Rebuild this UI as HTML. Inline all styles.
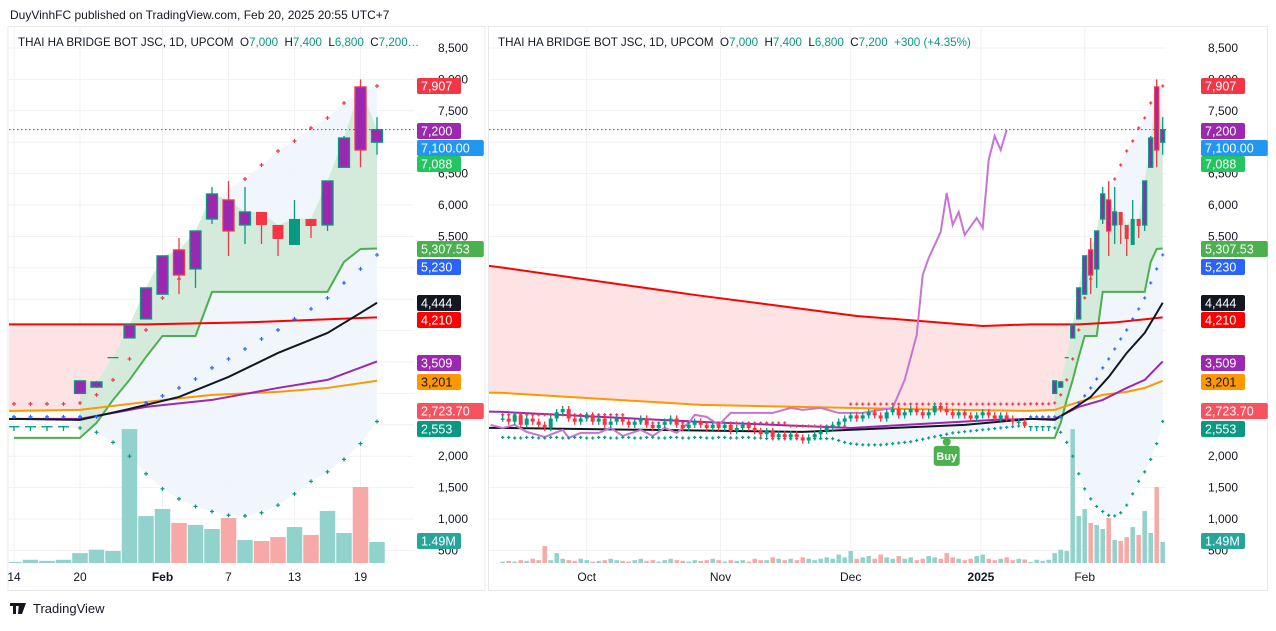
<!DOCTYPE html>
<html><head><meta charset="utf-8">
<style>
html,body{margin:0;padding:0;background:#fff;}
body{width:1276px;height:626px;overflow:hidden;font-family:"Liberation Sans",sans-serif;}
svg text{font-family:"Liberation Sans",sans-serif;white-space:pre;}
</style></head>
<body>
<svg id="chart" width="1276" height="626" viewBox="0 0 1276 626" xmlns="http://www.w3.org/2000/svg" xml:space="preserve">
<defs>
<clipPath id="clipL"><rect x="9" y="27" width="405" height="538"/></clipPath>
<clipPath id="clipR"><rect x="489" y="27" width="677" height="538"/></clipPath>
</defs>
<text x="10" y="19" font-size="12" fill="#131722">DuyVinhFC published on TradingView.com, Feb 20, 2025 20:55 UTC+7</text>
<rect x="8" y="26.5" width="477" height="564" fill="none" stroke="#e8e8ea"/>
<rect x="488.5" y="26.5" width="779" height="564" fill="none" stroke="#e8e8ea"/>
<g id="gridL"></g>
<g id="gridR"></g>
<g id="plotL" clip-path="url(#clipL)"></g>
<g id="plotR" clip-path="url(#clipR)"></g>
<g id="axes"></g>
<text x="18" y="46" font-size="11.6" fill="#131722">THAI HA BRIDGE BOT JSC, 1D, UPCOM  O<tspan fill="#089981">7,000</tspan>  H<tspan fill="#089981">7,400</tspan>  L<tspan fill="#089981">6,800</tspan>  C<tspan fill="#089981">7,200…</tspan></text>
<text x="498" y="46" font-size="11.6" fill="#131722">THAI HA BRIDGE BOT JSC, 1D, UPCOM  O<tspan fill="#089981">7,000</tspan>  H<tspan fill="#089981">7,400</tspan>  L<tspan fill="#089981">6,800</tspan>  C<tspan fill="#089981">7,200  +300 (+4.35%)</tspan></text>
<g>
<path d="M10 603h9v3h-3v8h-3v-8h-3z M19 603h3l-2 11h-2z M22 603h4l-4 11h-2z" fill="#131722"/>
<text x="33" y="613" font-size="13" fill="#131722">TradingView</text>
</g>
</svg>
<script>
// ---------- data ----------
const earlyClose = [2600,2550,2650,2500,2600,2550,2500,2450,2600,2700,2750,
 2600,2550,2600,2650,2550,2600,2500,2550,2600,2550,2500,
 2550,2600,2500,2450,2500,2550,2600,2500,2450,2500,2550,
 2500,2450,2500,2450,2500,2400,2450,2500,2450,2400,2350,
 2400,2300,2350,2300,2350,2300,2250,2300,2350,2400,2450,
 2500,2550,2600,2650,2600,2650,2700,2650,2600,2700,2750,
 2650,2700,2750,2700,2650,2700,2800,2750,2700,2650,2700,
 2650,2600,2650,2700,2650,2600,2650,2600,2550,2550,2500];
const earlyVol = [0.1,0.15,0.1,0.2,0.15,0.3,0.2,1.2,0.2,0.7,0.3,
 0.2,0.15,0.3,0.2,0.1,0.15,0.2,0.3,0.2,0.15,0.1,
 0.2,0.3,0.15,0.2,0.1,0.2,0.3,0.2,0.15,0.1,0.2,
 0.15,0.2,0.3,0.2,0.1,0.2,0.15,0.2,0.1,0.3,0.2,
 0.2,0.4,0.3,0.2,0.3,0.2,0.4,0.3,0.2,0.3,0.4,
 0.3,0.6,0.4,0.85,0.3,0.4,0.5,0.3,0.6,0.4,0.3,
 0.5,0.3,0.4,0.2,0.3,0.5,0.4,0.3,0.7,0.4,0.3,
 0.2,0.3,0.5,0.6,0.3,0.2,0.3,0.4,0.2,0.3,0.25];
const earlyUpper = [2660,2660,2660,2660,2660,2660,2660,2660,2660,2660,2660,2660,2660,2660,2660,2660,2660,2660,2660,2660,2660,
 2530,2530,2530,2530,2530,2530,2530,2530,2530,2530,2530,2530,2530,2530,2530,2530,2530,2530,2530,2530,2530,2530,2530,2530,2530,2530,2530,
 2480,2480,2480,2480,2480,2480,2480,2480,2480,2480,
 2830,2830,2830,2830,2830,2830,2830,2830,2830,2830,2830,2830,2830,2830,2830,2830,2830,2830,2830,2830,2830,2830,2830,2830,2830,2830,2830,2830,2830,2830];
const earlyLower = [2300,2300,2290,2290,2300,2300,2290,2290,2300,2300,2290,2290,2300,2300,2290,2290,2300,2300,2290,2290,2300,2300,
 2290,2290,2300,2300,2290,2290,2300,2300,2290,2290,2300,2300,2290,2290,2300,2300,2290,2290,2300,2300,2290,2290,2280,
 2280,2280,2280,2280,2280,2280,2280,2280,2280,2280,2280,
 2250,2220,2200,2190,2180,2180,2180,2180,2190,2200,2210,2220,2230,2250,2270,2290,2310,2330,2350,2370,
 2380,2390,2400,2410,2420,2430,2440,2450,2460,2470,2480,2490];
const dates = ["14","15","16","17","20","21","22","23","24","Feb","4","5","6","7","10","11","12","13","14","17","18","19","20"];
const opens  = [2480,2480,2480,2480,3000,3100,3580,3883,4186,4580,5284,4982,5777,6080,5682,5889,5682,5364,5778,5682,6600,7880,7000];
const highs  = [2480,2480,2480,2480,3200,3200,3580,4090,4680,5190,5475,5587,6287,6383,6287,5889,5682,6080,5778,6383,7100,8000,7400];
const lows   = [2400,2400,2400,2400,2990,3087,3580,3883,4186,4580,4580,4680,5698,5189,5380,5380,5189,5364,5475,5587,6600,6600,6800];
const closes = [2480,2480,2480,2480,3200,3183,3580,4090,4680,5190,4886,5587,6176,5587,5889,5682,5459,5778,5666,6383,7067,6876,7200];
const purpleBar = [0,0,0,0,1,1,0,1,1,1,1,1,1,1,1,0,0,0,0,1,1,1,1];
const volumes = [0.07,0.23,0.15,0.23,0.7,0.95,0.85,9.5,3.33,3.83,2.84,2.7,2.41,3.19,1.63,1.56,1.84,2.55,1.99,3.69,2.13,5.39,1.49];
const upperDots = [2833,2833,2833,2833,2848,2976,3215,3549,4010,4520,4822,null,null,null,6414,6637,6860,7019,7226,7386,7624,null,7895];
const blueDots  = [2626,2626,2626,2626,2626,2626,null,null,2848,2960,3087,3230,3406,3549,3708,3867,4010,4186,4345,4520,4759,4982,5205];
const lowerDots = [null,null,null,null,2450,2380,2220,2000,1720,1480,1320,1200,1120,1060,1050,1100,1220,1400,1600,1750,1950,2200,2553];
const envTop = [2480,2480,2480,2480,2600,3000,3300,3700,4200,4700,5200,5600,6000,6250,6414,6637,6860,7019,7226,7386,7624,7800,7895];
const stepLine = [2292,2292,2292,2292,2292,2530,2896,3215,3580,3915,3915,3915,4616,4616,4616,4616,4616,4616,4616,4616,5093,5300,5307];
const redIdx=[-3,0,32,59,80,88,96,102,110], redVal=[5040,5003,4568,4233,4074,4100,4100,4130,4210];
const orgIdx=[-3,0,33,66,88,92,96,100,104,107,110], orgVal=[3015,3008,2817,2753,2721,2737,2864,2976,3024,3087,3201];
const purIdx=[-3,0,33,58,82,88,92,96,100,104,107,110], purVal=[2712,2705,2546,2450,2578,2594,2594,2785,2896,3087,3215,3509];
const blkIdx=[-3,0,50,77,88,92,95,98,101,104,107,109,110], blkVal=[2452,2450,2387,2498,2594,2578,2753,2944,3262,3644,3963,4281,4444];
const cmpIdx=[-2,0,2,4,7,10,11,13,16,18,20,23,25,27,29,31,32,34,36,38,41,45,48,50,53,56,60,63,65,67,69,70,71,73,74,75,76,77,79,80,81,82,83,84];
const cmpVal=[2498,2450,2498,2387,2307,2419,2291,2371,2371,2450,2323,2419,2323,2450,2371,2530,2658,2626,2498,2689,2689,2689,2769,2737,2769,2689,2689,2737,2769,3215,3931,4886,5157,5571,6192,5682,5889,5523,5794,5634,6717,7099,6876,7195];
const priceTicks=[8500,8000,7500,7000,6500,6000,5500,5000,4500,4000,3500,3000,2500,2000,1500,1000,500];
const priceTickLabels=["8,500","8,000","7,500","7,000","6,500","6,000","5,500","5,000","4,500","4,000","3,500","3,000","2,500","2,000","1,500","1,000","500"];
const rightMonths=["Oct","Nov","Dec","2025","Feb"], rightMonthIdx=[14,36.3,58,79.7,97];

const NE = earlyClose.length;
const yP = p => 48 + (8500 - p) * 0.0628;
const yV = v => 563 - v * 14.1;
const xL = i => 14 + i * 16.5;
const xR = k => 502.7 + k * 6;
const NS='http://www.w3.org/2000/svg';
function mk(parent, tag, attrs){const e=document.createElementNS(NS,tag);for(const a in attrs)e.setAttribute(a,attrs[a]);parent.appendChild(e);return e;}

const fC=[],fO=[],fH=[],fL=[],fV=[],fUp=[],fLo=[],fBl=[],fPur=[];
for(let k=0;k<NE;k++){const c=earlyClose[k],o=k?earlyClose[k-1]:c;fC.push(c);fO.push(o);fH.push(Math.max(o,c)+50);fL.push(Math.min(o,c)-50);fV.push(earlyVol[k]);fUp.push(earlyUpper[k]);fLo.push(earlyLower[k]);fBl.push(null);fPur.push(0);}
for(let i=0;i<closes.length;i++){fC.push(closes[i]);fO.push(opens[i]);fH.push(highs[i]);fL.push(lows[i]);fV.push(volumes[i]);fUp.push(upperDots[i]);fLo.push(lowerDots[i]);fBl.push(blueDots[i]);fPur.push(purpleBar[i]);}
const N=fC.length;

const gL=document.getElementById('gridL'), gR=document.getElementById('gridR');
const pL=document.getElementById('plotL'), pR=document.getElementById('plotR');
const ax=document.getElementById('axes');

priceTicks.forEach(p=>{
  const y=yP(p);
  let l=mk(gL,'line',{x1:9,x2:414,y1:y,y2:y,stroke:'#f0f1f3'});
  
  
  let r=mk(gR,'line',{x1:489,x2:1166,y1:y,y2:y,stroke:'#f0f1f3'});
  
  
});
[0,4,9,13,17,21].forEach(i=>{
  let l=mk(gL,'line',{x1:xL(i),x2:xL(i),y1:27,y2:565,stroke:'#f0f1f3'});
  
  
});
rightMonthIdx.forEach(k=>{
  let l=mk(gR,'line',{x1:xR(k),x2:xR(k),y1:27,y2:565,stroke:'#f0f1f3'});
  
  
});

function drawPanel(g, xf, k0, bw, dotSz, side){
  const xs=k=>xf(k-k0);
  const linePts=(idx,val)=>idx.map((k,j)=>xs(k)+','+yP(val[j])).join(' ');
  const valAt=(idx,val,k)=>{for(let j=0;j<idx.length-1;j++){if(k>=idx[j]&&k<=idx[j+1]){const t=(k-idx[j])/(idx[j+1]-idx[j]);return val[j]+(val[j+1]-val[j])*t;}}return val[val.length-1];};
  let top=[],bot=[];
  for(let k=k0-3;k<=95;k++){top.push(xs(k)+','+yP(valAt(redIdx,redVal,k)));bot.unshift(xs(k)+','+yP(k<=92?valAt(orgIdx,orgVal,k):fC[k]));}
  let pf=mk(g,'polygon',{points:top.concat(bot).join(' '),fill:'#fde3e4'});
  
  
  top=[];bot=[];
  for(let k=Math.max(56,k0);k<N;k++){const i=k-NE;const t=i>=0?envTop[i]:fC[k];const b=fLo[k]!=null?fLo[k]:2450;top.push(xs(k)+','+yP(t));bot.unshift(xs(k)+','+yP(b));}
  let bf=mk(g,'polygon',{points:top.concat(bot).join(' '),fill:'#eef5fc','fill-opacity':0.9});
  
  
  top=[];bot=[];
  for(let i=4;i<closes.length;i++){top.push(xs(NE+i)+','+yP(Math.max(closes[i],opens[i])));bot.unshift(xs(NE+i)+','+yP(stepLine[i]));}
  let gf=mk(g,'polygon',{points:top.concat(bot).join(' '),fill:'#cfe7d3','fill-opacity':0.85});
  
  
  for(let k=k0;k<N;k++){
    const up=fC[k]>=fO[k];const vw=side==='L'?15.5:4.5;
    let r=mk(g,'rect',{x:xs(k)-vw/2,y:yV(fV[k]),width:vw,height:563-yV(fV[k]),fill:up?'#92d2cc':'#f7a9a8'});
    
    
  }
  let sp=[];
  if(side==='R'){sp.push(xs(73)+','+yP(2292));}
  stepLine.forEach((v,i)=>sp.push(xs(NE+i)+','+yP(v)));
  let sl=mk(g,'polyline',{points:sp.join(' '),fill:'none',stroke:'#4caf50','stroke-width':2});
  
  
  [[redIdx,redVal,'#ff0000','ma-red'],[orgIdx,orgVal,'#ff9800','ma-orange'],[purIdx,purVal,'#9c27b0','ma-purple'],[blkIdx,blkVal,'#131722','ma-black']].forEach(m=>{
    let pl=mk(g,'polyline',{points:linePts(m[0],m[1]),fill:'none',stroke:m[2],'stroke-width':2});
    
    
  });
  if(side==='R'){
    let cl=mk(g,'polyline',{points:linePts(cmpIdx,cmpVal),fill:'none',stroke:'#c774d4','stroke-width':2});
    
    
  }
  const dot=(x,y,c)=>{let d=mk(g,'path',{d:`M${x-dotSz} ${y}h${2*dotSz}M${x} ${y-dotSz}v${2*dotSz}`,stroke:c,'stroke-width':1.2});
    
    };
  for(let k=k0;k<N;k++){
    if(fUp[k]!=null)dot(xs(k),yP(fUp[k]),'#f23645');
    if(fBl[k]!=null)dot(xs(k),yP(fBl[k]),'#2962ff');
    if(fLo[k]!=null)dot(xs(k),yP(fLo[k]),'#089981');
  }
  for(let k=k0;k<N;k++){
    const o=fO[k],c=fC[k],h=fH[k],l=fL[k],up=c>=o;
    const edge=up?'#089981':'#f23645';
    const fill=fPur[k]?'#9c27b0':edge;
    const x=xs(k);
    let w=mk(g,'line',{x1:x,x2:x,y1:yP(h),y2:yP(l),stroke:edge,'stroke-width':1.3});
    
    
    const yt=yP(Math.max(o,c)),yb=yP(Math.min(o,c));
    let b=mk(g,'rect',{x:x-bw/2,y:yt,width:bw,height:Math.max(1.3,yb-yt),fill:fill,stroke:edge,'stroke-width':fPur[k]?1.3:0});
    
    
  }
  let lp=mk(g,'line',{x1:side==='L'?9:489,x2:side==='L'?414:1166,y1:yP(7200),y2:yP(7200),stroke:'#9c27b0','stroke-dasharray':'1.5 2.5','stroke-width':1});
  
  
}
drawPanel(pL,xL,NE,11,2,'L');
drawPanel(pR,xR,0,4,1.6,'R');

(function(){
  const g=mk(pR,'g',{});
  
  
  mk(g,'circle',{cx:xR(74),cy:yP(2292)+4,r:4,fill:'#4caf50'});
  mk(g,'rect',{x:xR(74)-13,y:yP(2292)+8,width:26,height:20,rx:3,fill:'#4caf50'});
  const t=mk(g,'text',{x:xR(74),y:yP(2292)+22,'font-size':11,fill:'#fff','text-anchor':'middle','font-weight':'bold'});t.textContent='Buy';
})();

const hiddenL=new Set([7000,5000,4500,4000,3500,3000,2500]);
priceTicks.forEach((p,j)=>{
  if(hiddenL.has(p))return;
  [438,1208].forEach(x=>{
    let t=mk(ax,'text',{x:x,y:yP(p)+4,'font-size':12,fill:'#131722'});
    t.textContent=priceTickLabels[j];
    
    
  });
});
const tagVals=[7907,7200,7100,7088,5307.53,5230,4444,4210,3509,3201,2723.7,2553];
const tagText=["7,907","7,200","7,100.00","7,088","5,307.53","5,230","4,444","4,210","3,509","3,201","2,723.70","2,553"];
const tagColor=['#f23645','#9c27b0','#2196f3','#22c55e','#4caf50','#2962ff','#131722','#ff0000','#9c27b0','#ff9800','#f7525f','#089981'];
const tagY=[86,131,148,164,249,267,303,320,363,382,411,429];
tagVals.forEach((v,j)=>{
  [417,1201].forEach(x=>{
    const g=mk(ax,'g',{});
    
    
    const w=tagText[j].length*7.6+6;
    mk(g,'rect',{x:x,y:tagY[j]-8,width:w,height:16,rx:2,fill:tagColor[j]});
    const t=mk(g,'text',{x:x+4,y:tagY[j]+4.5,'font-size':12.5,fill:tagColor[j]==='#ff9800'?'#131722':'#fff'});
    t.textContent=tagText[j];
  });
});
[417,1201].forEach(x=>{
  const g=mk(ax,'g',{});
  
  
  mk(g,'rect',{x:x,y:533,width:44,height:16,rx:2,fill:'#26a69a'});
  const t=mk(g,'text',{x:x+4,y:545.5,'font-size':12.5,fill:'#fff'});t.textContent='1.49M';
});
[[0,'14'],[4,'20'],[9,'Feb'],[13,'7'],[17,'13'],[21,'19']].forEach(d=>{
  const t=mk(ax,'text',{x:xL(d[0]),y:581,'font-size':12,fill:'#131722','text-anchor':'middle','font-weight':d[1]==='Feb'?'bold':'normal'});
  t.textContent=d[1];
  
  
});
rightMonths.forEach((m,j)=>{
  const t=mk(ax,'text',{x:xR(rightMonthIdx[j]),y:581,'font-size':12,fill:'#131722','text-anchor':'middle','font-weight':m==='2025'?'bold':'normal'});
  t.textContent=m;
  
  
});
</script>
</body></html>
